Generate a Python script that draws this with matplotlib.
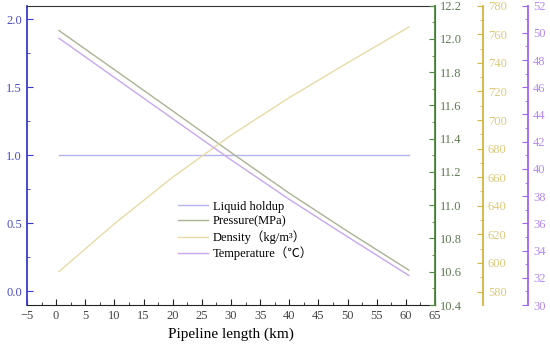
import matplotlib
matplotlib.use("Agg")
import matplotlib.pyplot as plt
from matplotlib.ticker import MultipleLocator, FormatStrFormatter

plt.rcParams['font.family'] = ['Liberation Serif', 'Noto Sans CJK SC']

# pipeline length (km)
length = [0.5, 10, 20, 30, 40, 50, 60.5]
holdup = [1.0, 1.0, 1.0, 1.0, 1.0, 1.0, 1.0]
pressure = [12.05, 11.815, 11.567, 11.317, 11.072, 10.843, 10.61]
density = [594, 627.4, 660, 689.3, 715.7, 740, 765]
temperature = [49.60, 46.72, 43.69, 40.67, 37.76, 35.01, 32.17]

c_hold, c_hold_ax = "#b4b4ee", "#3a3ad0"
c_pres, c_pres_ax = "#a9b394", "#4f8a3c"
c_dens, c_dens_ax = "#e6dba6", "#d6b23e"
c_temp, c_temp_ax = "#c9a6f2", "#a463ef"

fig = plt.figure(figsize=(5.5, 3.52), dpi=100)
ax = fig.add_axes([0.049, 0.1335, 0.742, 0.8505])
ax2 = ax.twinx()
ax3 = ax.twinx()
ax4 = ax.twinx()
ax3.spines["right"].set_position(("axes", 1.1176))
ax4.spines["right"].set_position(("axes", 1.228))

l1, = ax.plot(length, holdup, color=c_hold, lw=1.0, label="Liquid holdup")
l2, = ax2.plot(length, pressure, color=c_pres, lw=1.0, label="Pressure(MPa)")
l3, = ax3.plot(length, density, color=c_dens, lw=1.0, label="Density（kg/m³）")
l4, = ax4.plot(length, temperature, color=c_temp, lw=1.0, label="Temperature（℃）")

ax.set_xlim(-5, 65)
ax.set_ylim(-0.1, 2.1)
ax2.set_ylim(10.4, 12.2)
ax3.set_ylim(570.6, 780)
ax4.set_ylim(30, 52)

ax.xaxis.set_major_locator(MultipleLocator(5))
ax.xaxis.set_minor_locator(MultipleLocator(2.5))
ax.yaxis.set_major_locator(MultipleLocator(0.5))
ax.yaxis.set_minor_locator(MultipleLocator(0.25))
ax.yaxis.set_major_formatter(FormatStrFormatter("%.1f"))
ax2.yaxis.set_major_locator(MultipleLocator(0.2))
ax2.yaxis.set_minor_locator(MultipleLocator(0.1))
ax2.yaxis.set_major_formatter(FormatStrFormatter("%.1f"))
ax3.yaxis.set_major_locator(MultipleLocator(20))
ax3.yaxis.set_minor_locator(MultipleLocator(10))
ax4.yaxis.set_major_locator(MultipleLocator(2))
ax4.yaxis.set_minor_locator(MultipleLocator(1))

# spines and ticks
ax.spines["left"].set_color(c_hold_ax)
ax.spines["left"].set_linewidth(1.3)
ax.spines["top"].set_color("#333333")
ax.spines["bottom"].set_color("#222222")
ax.tick_params(axis="x", which="both", direction="in", colors="#222222", labelsize=9, labelcolor="#444444")
ax.tick_params(axis="x", which="major", length=4)
ax.tick_params(axis="x", which="minor", length=2)
ax.tick_params(axis="y", which="both", direction="in", colors=c_hold_ax, labelsize=9, labelcolor="#4a4ac8")
ax.tick_params(axis="y", which="major", length=4)
ax.tick_params(axis="y", which="minor", length=2)

for a, spc, lab in [(ax2, c_pres_ax, "#5e7a50"), (ax3, c_dens_ax, "#dcc97a"), (ax4, c_temp_ax, "#b487f0")]:
    for s in ["top", "bottom", "left"]:
        a.spines[s].set_visible(False)
    a.spines["right"].set_color(spc)
    a.spines["right"].set_linewidth(1.3)
    a.tick_params(axis="y", which="both", direction="in", colors=spc, labelsize=9, labelcolor=lab)
    a.tick_params(axis="y", which="major", length=4)
    a.tick_params(axis="y", which="minor", length=2)

ax.set_xlabel("Pipeline length (km)", fontsize=11, labelpad=4)

ax.legend(handles=[l1, l2, l3, l4], loc="upper left", bbox_to_anchor=(0.358, 0.365),
          frameon=False, fontsize=9, handlelength=2.4, handletextpad=0.4,
          labelspacing=0.22, borderaxespad=0)

fig.savefig("out.png", dpi=100)
